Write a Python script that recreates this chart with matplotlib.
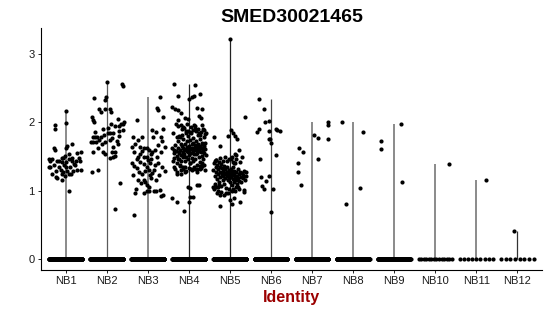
import matplotlib
matplotlib.use("Agg")
import matplotlib.pyplot as plt
import numpy as np

plt.rcParams['font.family'] = ['Liberation Sans', 'DejaVu Sans']

# === DADOS ===

groups = ["NB1", "NB2", "NB3", "NB4", "NB5", "NB6",
          "NB7", "NB8", "NB9", "NB10", "NB11", "NB12"]

# numero de celulas com expressao zero em cada grupo
zero_counts = [400, 400, 400, 400, 400, 250, 250, 250, 150, 14, 9, 8]

# expressao das celulas nao-zero
nb1_expr = [2.16, 1.96, 1.90, 1.99, 1.63, 1.60, 1.66, 1.69, 1.62, 1.57,
            1.48, 1.44, 1.47, 1.43, 1.43, 1.43, 1.42, 1.48, 1.51, 1.53,
            1.47, 1.44, 1.34, 1.34, 1.25, 1.20, 1.18, 1.38, 1.34, 1.29,
            1.27, 1.21, 1.15, 1.34, 1.29, 1.37, 1.30, 1.30, 0.99, 1.37,
            1.34, 1.30, 1.25, 1.24, 1.39, 1.44, 1.29, 1.48, 1.48, 1.47,
            1.42, 1.55, 1.24]
nb2_expr = [2.59, 2.56, 2.53, 2.35, 2.33, 2.37, 2.19, 2.15, 2.19, 2.19,
            2.15, 2.08, 2.04, 2.00, 2.05, 2.01, 1.98, 1.91, 1.98, 1.94,
            1.94, 1.89, 1.88, 1.84, 1.85, 1.85, 1.81, 1.78, 1.79, 1.79,
            1.79, 1.71, 1.71, 1.71, 1.74, 1.71, 1.74, 1.73, 1.68, 1.64,
            1.56, 1.56, 1.53, 1.48, 1.50, 1.51, 1.56, 1.28, 1.30, 1.11,
            0.73, 1.98, 1.57, 1.62, 1.68, 1.92, 1.80, 1.86, 1.77]
nb3_expr = [0.65, 2.04, 1.79, 1.64, 1.68, 1.74, 1.64, 1.58, 1.62, 1.63,
            1.60, 1.40, 1.36, 1.33, 1.28, 1.25, 1.46, 1.50, 1.42, 1.03,
            0.96, 0.97, 1.00, 1.00, 1.00, 1.00, 1.01, 0.92, 0.93, 1.16,
            1.13, 1.09, 1.05, 1.19, 1.26, 1.35, 1.30, 1.40, 1.46, 1.39,
            1.50, 1.50, 1.79, 1.89, 1.86, 2.21, 2.18, 2.37, 2.08, 1.90,
            1.67, 1.72, 1.57, 1.50, 1.40, 1.35, 1.29, 1.23, 1.15, 1.30,
            1.37, 1.54, 1.57, 1.54, 1.79, 1.15, 1.11, 1.23, 1.57, 1.23,
            1.45, 1.60, 1.79, 1.64, 1.29]
nb4_expr = [2.56, 2.54, 2.38, 2.34, 2.37, 2.38, 2.41, 2.22, 2.19, 2.18,
            2.13, 2.21, 2.19, 2.09, 2.07, 2.06, 2.05, 2.03, 0.90, 0.84,
            0.70, 0.83, 0.91, 0.91, 1.04, 1.06, 1.08, 1.09, 1.25, 1.25,
            1.32, 1.32, 1.36,
            1.62, 1.55, 1.48, 1.44, 1.67, 1.58, 1.51, 1.40, 1.35, 1.72,
            1.63, 1.55, 1.47, 1.78, 1.38, 1.60, 1.69, 1.52, 1.44, 1.82,
            1.65, 1.57, 1.49, 1.75, 1.35, 1.61, 1.54, 1.68, 1.43, 1.88,
            1.59, 1.50, 1.72, 1.64, 1.46, 1.56, 1.80, 1.66, 1.52, 1.40,
            1.74, 1.61, 1.55, 1.84, 1.48, 1.69, 1.58, 1.43, 1.77, 1.63,
            1.53, 1.90, 1.67, 1.46, 1.59, 1.72, 1.38, 1.64, 1.55, 1.81,
            1.68, 1.49, 1.60, 1.75, 1.42, 1.66, 1.56, 1.86, 1.63, 1.51,
            1.70, 1.59, 1.46, 1.78, 1.65, 1.55, 1.61, 1.70, 1.52,
            1.85, 1.32, 1.98, 1.27, 1.95, 1.80, 1.36, 1.30, 1.90, 1.93,
            1.92, 1.34, 1.85, 1.29, 1.97, 1.88, 1.33, 1.40, 1.86, 1.93,
            1.30, 1.89, 1.35, 1.94, 1.31, 1.87, 1.28, 1.91, 1.84, 1.36,
            1.82, 1.33, 1.96, 1.90, 1.37, 1.89, 1.30, 1.85,
            1.78, 1.46, 1.96, 1.28, 1.32, 1.96, 1.31, 1.40, 1.83, 1.60,
            1.60, 1.70, 1.62, 1.64, 1.68, 1.53, 1.58, 1.62, 1.57, 1.58]
nb5_expr = [3.22, 2.08, 1.89, 1.85, 1.80, 1.80, 1.75, 1.79, 1.66, 1.59,
            1.53, 1.50, 1.46, 1.42, 0.77, 0.80, 0.86, 0.84, 0.93, 0.93,
            0.96, 0.90, 1.01, 1.06, 1.05, 1.08,
            1.30, 1.40, 1.22, 1.10, 1.35, 1.45, 1.27, 1.17, 1.38, 1.05,
            1.31, 1.24, 1.42, 1.13, 1.35, 1.28, 1.20, 1.07, 1.39, 1.25,
            1.33, 1.15, 1.29, 1.22, 1.36, 1.10, 1.26, 1.19, 1.31, 1.24,
            1.04, 1.28, 1.21, 1.34, 1.15, 1.27, 1.23, 1.30, 1.18, 1.25,
            1.12, 1.32, 1.20, 1.27, 1.08, 1.23, 1.35, 1.17, 1.29, 1.13,
            1.25, 1.20, 1.40, 1.06, 1.28, 1.16, 1.22, 1.10, 1.31, 1.19,
            1.25, 1.02, 1.14, 1.28, 1.20, 1.12, 1.26, 1.18, 1.23, 1.29,
            1.15, 1.27, 1.22,
            1.02, 1.45, 1.00, 1.48, 0.98, 1.44, 1.50, 0.97, 1.43, 1.03,
            1.47, 0.99, 1.41, 1.00, 1.46, 1.05, 1.42, 1.49, 0.98, 1.44,
            1.02, 1.52, 0.96]
nb6_expr = [2.34, 2.19, 2.02, 2.00, 1.91, 1.86, 1.87, 1.91, 1.89, 1.87,
            1.75, 1.75, 1.70, 1.52, 1.46, 1.22, 1.20, 1.14, 1.07, 1.02,
            1.02, 0.69]
nb7_expr = [1.62, 1.56, 1.40, 1.28, 1.08, 1.82, 1.77, 1.46, 1.76, 2.00, 1.96]
nb8_expr = [2.00, 1.86, 1.04, 0.81]
nb9_expr = [1.72, 1.61, 1.98, 1.13]
nb10_expr = [1.39]
nb11_expr = [1.16]
nb12_expr = [0.41]

# deslocamento horizontal (jitter) de cada ponto
nb1_jitter = [0.00, -0.26, -0.26, 0.02, -0.28, -0.27, 0.04, 0.15, 0.02, 0.37,
              0.33, 0.34, -0.41, -0.37, -0.20, -0.15, -0.10, -0.06, -0.02, 0.07,
              0.08, 0.16, -0.41, -0.37, -0.33, -0.24, -0.20, -0.04, 0.00, 0.04,
              -0.07, -0.02, -0.08, 0.11, 0.18, 0.24, 0.28, 0.37, 0.08, -0.28,
              -0.16, -0.12, 0.12, 0.07, 0.20, 0.26, -0.23, -0.10, 0.15, -0.33,
              0.02, 0.28, -0.08]
nb2_jitter = [0.00, 0.37, 0.39, -0.32, -0.04, -0.02, -0.18, -0.14, -0.03, 0.07,
              0.11, -0.36, -0.34, -0.30, 0.27, 0.41, 0.35, -0.10, 0.11, 0.19,
              0.29, 0.39, 0.31, 0.02, 0.08, 0.16, -0.06, -0.14, -0.34, -0.29,
              -0.24, -0.38, -0.33, -0.26, -0.18, -0.03, 0.07, 0.24, 0.27, 0.16,
              -0.34, -0.10, -0.03, 0.07, 0.15, 0.19, 0.21, -0.37, -0.20, 0.33,
              0.19, 0.40, 0.13, -0.22, -0.12, 0.03, 0.30, -0.28, 0.12]
nb3_jitter = [-0.34, -0.27, -0.36, -0.38, -0.32, -0.23, -0.19, -0.15, -0.09, -0.02,
              0.03, -0.38, -0.33, -0.27, -0.21, -0.15, -0.27, -0.23, -0.19, -0.29,
              -0.32, -0.10, -0.03, 0.04, 0.15, 0.21, 0.29, 0.32, 0.37, -0.10,
              -0.06, -0.02, 0.03, 0.07, 0.11, -0.03, 0.03, 0.05, 0.09, -0.10,
              -0.09, -0.02, 0.13, 0.11, 0.21, 0.22, 0.26, 0.29, 0.38, 0.38,
              0.24, 0.34, 0.32, 0.22, 0.26, 0.34, 0.41, 0.28, 0.20, 0.15,
              0.18, 0.07, 0.11, -0.19, -0.15, -0.23, -0.17, -0.36, -0.33, 0.05,
              0.00, 0.17, 0.31, 0.41, -0.06]
nb4_jitter = [-0.37, 0.15, -0.27, 0.00, 0.07, 0.13, 0.27, -0.40, -0.34, -0.26,
              -0.19, 0.21, 0.32, 0.24, 0.30, -0.09, -0.02, -0.26, -0.40, -0.28,
              -0.11, 0.00, 0.04, 0.09, 0.04, -0.02, 0.21, 0.24, -0.30, -0.20,
              -0.13, 0.26, 0.32,
              -0.40, -0.37, -0.35, -0.38, -0.33, -0.31, -0.30, -0.29, -0.36, -0.27,
              -0.26, -0.25, -0.24, -0.22, -0.22, -0.21, -0.20, -0.19, -0.18, -0.17,
              -0.16, -0.15, -0.14, -0.13, -0.13, -0.12, -0.11, -0.10, -0.09, -0.08,
              -0.07, -0.06, -0.05, -0.04, -0.03, -0.02, -0.01, 0.00, 0.01, 0.02,
              0.03, 0.04, 0.05, 0.06, 0.07, 0.08, 0.09, 0.10, 0.11, 0.12,
              0.13, 0.14, 0.15, 0.16, 0.17, 0.18, 0.19, 0.20, 0.21, 0.22,
              0.23, 0.24, 0.25, 0.26, 0.27, 0.28, 0.29, 0.30, 0.31, 0.32,
              0.33, 0.34, 0.35, 0.36, 0.37, 0.38, 0.39, 0.40, 0.41,
              -0.39, -0.34, -0.32, -0.28, -0.26, -0.23, -0.21, -0.19, -0.17, -0.15,
              -0.12, -0.10, -0.08, -0.06, -0.04, -0.02, 0.00, 0.02, 0.04, 0.06,
              0.08, 0.10, 0.12, 0.14, 0.16, 0.18, 0.20, 0.22, 0.24, 0.26,
              0.28, 0.30, 0.32, 0.34, 0.36, 0.38, 0.40, 0.41,
              -0.30, -0.27, -0.18, -0.09, 0.05, 0.13, 0.21, 0.33, 0.39, -0.36,
              0.00, 0.10, -0.14, 0.27, 0.35, 0.18, -0.05, 0.07, -0.24, 0.24]
nb5_jitter = [0.00, 0.37, 0.03, 0.07, -0.04, 0.13, 0.18, -0.38, -0.25, 0.21,
              0.13, 0.04, -0.02, 0.07, -0.23, 0.04, 0.01, 0.24, -0.23, -0.15,
              -0.04, 0.09, 0.35, -0.40, -0.33, -0.27,
              -0.40, -0.38, -0.37, -0.36, -0.35, -0.34, -0.33, -0.32, -0.31, -0.30,
              -0.29, -0.28, -0.27, -0.26, -0.25, -0.24, -0.23, -0.22, -0.21, -0.20,
              -0.19, -0.18, -0.17, -0.16, -0.15, -0.14, -0.13, -0.12, -0.11, -0.10,
              -0.09, -0.08, -0.07, -0.06, -0.05, -0.04, -0.03, -0.02, -0.01, 0.00,
              0.01, 0.02, 0.03, 0.04, 0.05, 0.06, 0.07, 0.08, 0.09, 0.10,
              0.11, 0.12, 0.13, 0.14, 0.15, 0.16, 0.17, 0.18, 0.19, 0.20,
              0.21, 0.22, 0.23, 0.25, 0.26, 0.28, 0.30, 0.31, 0.33, 0.35,
              0.36, 0.38, 0.40,
              -0.39, -0.33, -0.29, -0.25, -0.21, -0.17, -0.13, -0.10, -0.06, -0.02,
              0.02, 0.05, 0.09, 0.12, 0.16, 0.20, 0.24, 0.29, 0.34, -0.37,
              0.07, 0.14, -0.31]
nb6_jitter = [-0.29, -0.16, -0.04, -0.15, -0.28, -0.34, -0.04, 0.13, 0.15, 0.22,
              -0.06, -0.02, 0.01, 0.13, -0.26, -0.04, -0.24, -0.11, -0.23, -0.16,
              0.06, 0.01]
nb7_jitter = [-0.31, -0.23, -0.33, -0.35, -0.26, 0.06, 0.15, 0.15, 0.38, 0.40, 0.40]
nb8_jitter = [-0.28, 0.23, 0.17, -0.17]
nb9_jitter = [-0.33, -0.32, 0.16, 0.20]
nb10_jitter = [0.34]
nb11_jitter = [0.23]
nb12_jitter = [-0.09]

expr = [nb1_expr, nb2_expr, nb3_expr, nb4_expr, nb5_expr, nb6_expr,
        nb7_expr, nb8_expr, nb9_expr, nb10_expr, nb11_expr, nb12_expr]
jitter = [nb1_jitter, nb2_jitter, nb3_jitter, nb4_jitter, nb5_jitter, nb6_jitter,
          nb7_jitter, nb8_jitter, nb9_jitter, nb10_jitter, nb11_jitter, nb12_jitter]

# cor do "violino" (fica reduzido a uma linha por causa dos zeros)
line_colors = ['#8a8a8a', '#5a5a5a', '#8a8a8a', '#222222', '#222222', '#444444',
               '#8a8a8a', '#8a8a8a', '#8a8a8a', '#8a8a8a', '#8a8a8a', '#333333']

# === PLOT ===

fig = plt.figure(figsize=(5.5, 3.16), dpi=100)
ax = fig.add_axes([41 / 550, 1 - 270 / 316, 501 / 550, 242 / 316])

for i, name in enumerate(groups):
    pos = i + 1
    vals = np.array(expr[i])
    top = vals.max()
    lw = 1.4 if line_colors[i] == '#8a8a8a' else 0.9
    ax.plot([pos, pos], [0, top], color=line_colors[i], lw=lw, zorder=1,
            solid_capstyle='butt')
    # zeros
    n0 = zero_counts[i]
    xz = pos + np.linspace(-0.4, 0.4, n0)
    ax.scatter(xz, np.zeros(n0), s=9, color='black', linewidths=0, zorder=2)
    # nao-zero
    ax.scatter(pos + np.array(jitter[i]), vals, s=9, color='black',
               linewidths=0, zorder=3)

ax.set_xlim(0.4, 12.6)
ax.set_ylim(-0.161, 3.381)
ax.set_xticks(range(1, len(groups) + 1))
ax.set_xticklabels(groups)
ax.set_yticks([0, 1, 2, 3])
ax.tick_params(axis='both', labelsize=8, length=2.5, width=0.6,
               colors='black', labelcolor='#1a1a1a', pad=2)

for side in ['top', 'right']:
    ax.spines[side].set_visible(False)
for side in ['left', 'bottom']:
    ax.spines[side].set_linewidth(0.8)
    ax.spines[side].set_color('black')

ax.set_title("SMED30021465", fontsize=14, fontweight='bold', pad=4)
ax.set_xlabel("Identity", fontsize=11.5, fontweight='bold', color='#9b0000',
              labelpad=3)

fig.savefig("out.png", dpi=100)
